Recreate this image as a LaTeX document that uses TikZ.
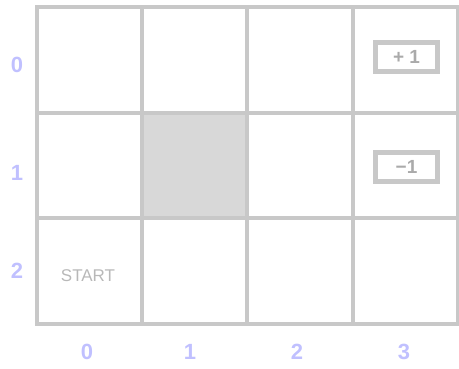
\documentclass[tikz,border=0pt]{standalone}
\usepackage{fontspec}
\setmainfont{Liberation Sans}
\definecolor{gridgray}{HTML}{C8C8C8}
\definecolor{wallgray}{HTML}{D8D8D8}
\definecolor{txtgray}{HTML}{AAAAAA}
\definecolor{startgray}{HTML}{B8B8B8}
\definecolor{idxblue}{HTML}{C0C0FF}
\begin{document}
\begin{tikzpicture}[x=1pt,y=-1pt,
  cell/.style={draw=gridgray,line width=4pt,minimum width=105.2pt,minimum height=105.7pt,inner sep=0pt,outer sep=0pt},
  idx/.style={text=idxblue,font=\fontsize{22}{22}\selectfont\bfseries,inner sep=0pt},
  reward/.style={draw=gridgray,line width=5pt,minimum width=62pt,minimum height=29pt,inner sep=0pt,text=txtgray,font=\fontsize{19}{19}\selectfont\bfseries}]
\useasboundingbox (0,0) rectangle (459,368);
\foreach \r in {0,1,2}{
  \foreach \c in {0,1,2,3}{
    \node[cell] (c-\r-\c) at ({37+105.2*(\c+0.5)},{7+105.7*(\r+0.5)}) {};
  }
}
\node[cell,fill=wallgray] (wall) at (c-1-1) {};
\node[reward] (plus) at (406.5,57) {+\ 1};
\node[reward] (minus) at (406.5,167) {\textminus 1};
\node[text=startgray,font=\fontsize{17}{17}\selectfont,inner sep=0pt] (start) at (88,276) {START};
\node[idx] (row-0) at (17,65) {0};
\node[idx] (row-1) at (17,173) {1};
\node[idx] (row-2) at (17,271) {2};
\node[idx] (col-0) at (87,352) {0};
\node[idx] (col-1) at (190,352) {1};
\node[idx] (col-2) at (297,352) {2};
\node[idx] (col-3) at (404,352) {3};
\end{tikzpicture}
\end{document}
